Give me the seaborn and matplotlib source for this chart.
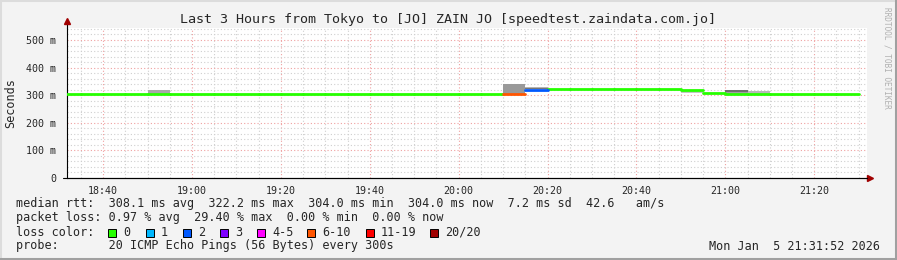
import matplotlib
matplotlib.use("Agg")
import matplotlib.pyplot as plt
from matplotlib.patches import Rectangle
from matplotlib.lines import Line2D
import seaborn as sns
import pandas as pd

# ---------------- data ----------------
title = "Last 3 Hours from Tokyo to [JO] ZAIN JO [speedtest.zaindata.com.jo]"
bin_start = ["18:30", "18:35", "18:40", "18:45", "18:50", "18:55", "19:00", "19:05", "19:10",
             "19:15", "19:20", "19:25", "19:30", "19:35", "19:40", "19:45", "19:50", "19:55",
             "20:00", "20:05", "20:10", "20:15", "20:20", "20:25", "20:30", "20:35", "20:40",
             "20:45", "20:50", "20:55", "21:00", "21:05", "21:10", "21:15", "21:20", "21:25"]
median_ms = [304, 304, 304, 304, 304, 304, 304, 304, 304,
             304, 304, 304, 304, 304, 304, 304, 304, 304,
             304, 304, 304, 320, 323, 323, 323, 323, 323,
             323, 318, 308, 304, 304, 304, 304, 304, 304]
lost_pings = [0, 0, 0, 0, 0, 0, 0, 0, 0,
              0, 0, 0, 0, 0, 0, 0, 0, 0,
              0, 0, 6, 2, 0, 0, 0, 0, 0,
              0, 0, 0, 0, 0, 0, 0, 0, 0]
smoke_time = ["18:50", "20:10", "20:15", "20:15", "20:50", "21:00", "21:00", "21:05"]
smoke_lo = [306, 306, 322, 325, 309, 306, 312, 306]
smoke_hi = [318, 342, 325, 331, 316, 312, 319, 315]
smoke_color = ["#a8a8a8", "#999999", "#777777", "#b4b4b4", "#c4c4c4", "#a0a0a0", "#6e6e6e", "#b8b8b8"]

loss_labels = ["0", "1", "2", "3", "4-5", "6-10", "11-19", "20/20"]
loss_colors = ["#26ff00", "#00b8ff", "#0059ff", "#7e00ff", "#ff00ff", "#ff5500", "#ff0000", "#a10000"]
loss_upper = [0, 1, 2, 3, 5, 10, 19, 20]

y_ticks = [0, 100, 200, 300, 400, 500]
y_tick_labels = ["0", "100 m", "200 m", "300 m", "400 m", "500 m"]
x_tick_labels = ["18:40", "19:00", "19:20", "19:40", "20:00", "20:20", "20:40", "21:00", "21:20"]
start_time = "18:31:52"
end_time = "21:31:52"

line_rtt = "median rtt:  308.1 ms avg  322.2 ms max  304.0 ms min  304.0 ms now  7.2 ms sd  42.6   am/s"
line_loss = "packet loss: 0.97 % avg  29.40 % max  0.00 % min  0.00 % now"
line_probe = "probe:       20 ICMP Echo Pings (56 Bytes) every 300s"
date_text = "Mon Jan  5 21:31:52 2026"
credit = "RRDTOOL / TOBI OETIKER"
y_title = "Seconds"
step_min = 5


def tmin(s):
    p = [float(v) for v in s.split(":")]
    return p[0] * 60 + p[1] + (p[2] / 60 if len(p) > 2 else 0)


def loss_index(n):
    for i, u in enumerate(loss_upper):
        if n <= u:
            return i
    return len(loss_upper) - 1


# ---------------- figure ----------------
W, H = 897, 260
sns.set_style("white")
mono = "DejaVu Sans Mono"
plt.rcParams["font.family"] = [mono]
bg = "#f3f3f3"
fig = plt.figure(figsize=(W / 100, H / 100), dpi=100, facecolor=bg)
ax = fig.add_axes([67 / W, (H - 178) / H, 800 / W, 150 / H])
ax.set_facecolor("white")

x0, x1 = tmin(start_time), tmin(end_time)
ax.set_xlim(x0, x1)
ax.set_ylim(0, 543.5)

# grid
t = 18 * 60 + 30
minor_x = []
while t <= x1:
    minor_x.append(t)
    t += 5
major_x = [tmin(s) for s in x_tick_labels]
for v in minor_x:
    if v not in major_x and v >= x0:
        ax.axvline(v, color="#cfcfcf", lw=0.8, ls=(0, (1, 2)), zorder=0)
for v in major_x:
    ax.axvline(v, color="#f0a0a0", lw=0.8, ls=(0, (1, 2)), zorder=0)
for v in range(20, 541, 20):
    if v % 100:
        ax.axhline(v, color="#cfcfcf", lw=0.8, ls=(0, (1, 2)), zorder=0)
for v in y_ticks[1:]:
    ax.axhline(v, color="#f0a0a0", lw=0.8, ls=(0, (1, 2)), zorder=0)

# smoke
ax.bar([tmin(s) for s in smoke_time], [h - l for h, l in zip(smoke_hi, smoke_lo)],
       bottom=smoke_lo, width=step_min, align="edge", color=smoke_color, lw=0, zorder=2)

# median line per bin, coloured by loss
rows = []
for i, (s, m, n) in enumerate(zip(bin_start, median_ms, lost_pings)):
    a = max(tmin(s), x0)
    b = tmin(s) + step_min
    lab = loss_labels[loss_index(n)]
    rows.append({"t": a, "ms": m, "bin": i, "loss": lab})
    rows.append({"t": b, "ms": m, "bin": i, "loss": lab})
df = pd.DataFrame(rows)
sns.lineplot(data=df, x="t", y="ms", hue="loss", units="bin", estimator=None,
             palette=dict(zip(loss_labels, loss_colors)), lw=2.0, legend=False, ax=ax, zorder=3)

# axes
for sp in ["top", "right"]:
    ax.spines[sp].set_visible(False)
for sp in ["left", "bottom"]:
    ax.spines[sp].set_color("black")
    ax.spines[sp].set_linewidth(0.8)
ax.set_xticks(major_x)
ax.set_xticklabels(x_tick_labels, fontsize=7.2, family=mono)
ax.set_xticks([v for v in minor_x if v >= x0], minor=True)
ax.set_yticks(y_ticks)
ax.set_yticklabels(y_tick_labels, fontsize=7.2, family=mono)
ax.set_yticks(list(range(20, 541, 20)), minor=True)
ax.tick_params(axis="x", which="major", length=3, width=0.8, pad=3, direction="out")
ax.tick_params(axis="x", which="minor", length=2, width=0.6, direction="out")
ax.tick_params(axis="y", which="major", length=3, width=0.8, pad=5, direction="out")
ax.tick_params(axis="y", which="minor", length=2, width=0.6, direction="out")
ax.set_xlabel("")
ax.set_ylabel("")

# axis arrows
ax.plot([0, 0], [1, 1.04], color="black", lw=0.8, transform=ax.transAxes, clip_on=False)
ax.plot([0], [1.045], marker="^", color="#a00000", ms=5, transform=ax.transAxes, clip_on=False)
ax.plot([-4 / 800, 1.0], [0, 0], color="black", lw=0.8, transform=ax.transAxes, clip_on=False)
ax.plot([1.004], [0], marker=">", color="#a00000", ms=5, transform=ax.transAxes, clip_on=False)


def fx(px):
    return px / W


def fy(py):
    return 1 - py / H


fig.text(fx(448), fy(19), title, ha="center", va="center", fontsize=9.6, family=mono)
fig.text(fx(11), fy(103), y_title, ha="center", va="center", rotation=90, fontsize=8.5, family=mono)
fig.text(fx(887), fy(58), credit, ha="center", va="center", rotation=270,
         fontsize=5.6, family=mono, color="#b0b0b0")

fs = 8.5
fig.text(fx(16), fy(204), line_rtt, ha="left", va="center", fontsize=fs, family=mono)
fig.text(fx(16), fy(218), line_loss, ha="left", va="center", fontsize=fs, family=mono)
fig.text(fx(16), fy(232), "loss color:", ha="left", va="center", fontsize=fs, family=mono)
fig.text(fx(16), fy(246), line_probe, ha="left", va="center", fontsize=fs, family=mono)
fig.text(fx(880), fy(246), date_text, ha="right", va="center", fontsize=fs, family=mono)

sq_x = [108, 145.5, 183, 220, 257, 307, 366, 430]
for sx, lab, c in zip(sq_x, loss_labels, loss_colors):
    fig.patches.append(Rectangle((fx(sx), fy(236.5)), 8 / W, 8 / H, transform=fig.transFigure,
                                 facecolor=c, edgecolor="black", lw=0.7))
    fig.text(fx(sx + 15), fy(232), lab, ha="left", va="center", fontsize=fs, family=mono)

# 3D-ish image border
fig.add_artist(Line2D([0, 1], [1 - 0.5 / H, 1 - 0.5 / H], color="#dcdcdc", lw=1.5, transform=fig.transFigure))
fig.add_artist(Line2D([0.5 / W, 0.5 / W], [0, 1], color="#dcdcdc", lw=1.5, transform=fig.transFigure))
fig.add_artist(Line2D([1 - 1.5 / W, 1 - 1.5 / W], [0, 1], color="#a0a0a0", lw=2.2, transform=fig.transFigure))
fig.add_artist(Line2D([0, 1], [1.5 / H, 1.5 / H], color="#a0a0a0", lw=2.2, transform=fig.transFigure))

fig.savefig("out.png", dpi=100, facecolor=bg)
